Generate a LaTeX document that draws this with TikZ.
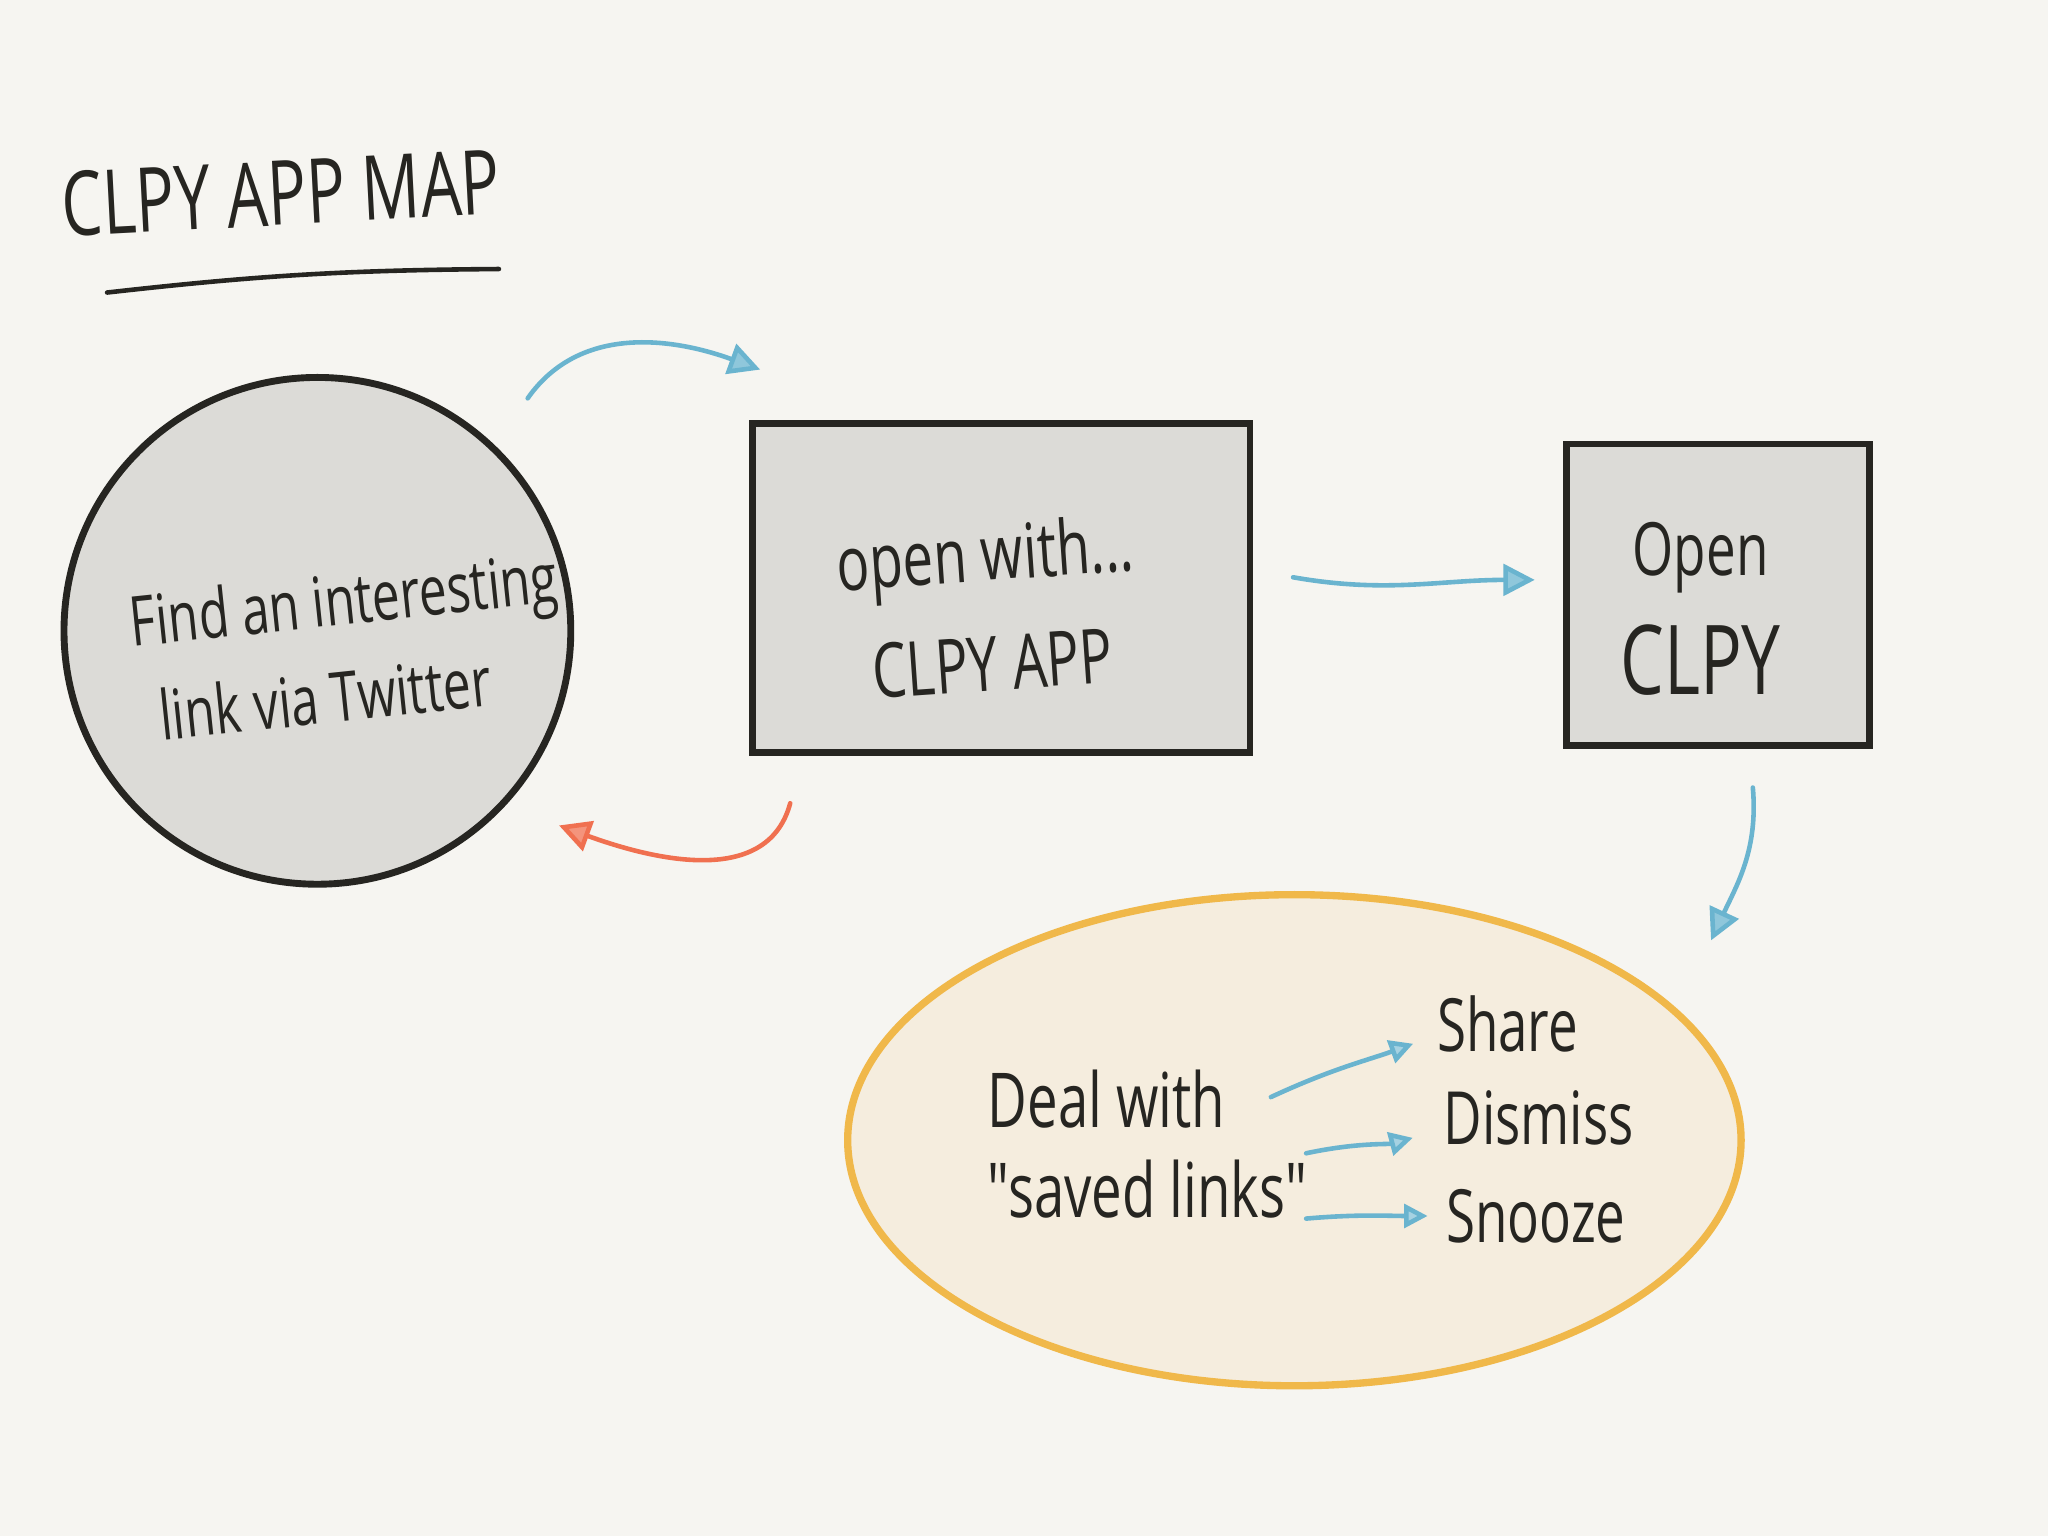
\documentclass[tikz,border=0pt]{standalone}
\usepackage{fontspec}
\setmainfont{Open Sans}
\newfontfamily\handfont[FakeStretch=0.72]{Open Sans}
\usetikzlibrary{shapes.geometric,positioning,arrows.meta}
\definecolor{colBg}{RGB}{246,245,241}
\definecolor{colInk}{RGB}{38,37,33}
\definecolor{colBox}{RGB}{220,219,215}
\definecolor{colFlow}{RGB}{106,180,207}
\definecolor{colBack}{RGB}{240,112,80}
\definecolor{colSaved}{RGB}{240,184,74}
\definecolor{colSavedFill}{RGB}{245,237,222}

\begin{document}
\begin{tikzpicture}[
    every node/.style={font=\handfont, text=colInk},
    box/.style={draw=colInk, fill=colBox, line width=1.5pt, inner sep=0pt},
    hand/.style={align=center, inner sep=1pt, font=\handfont\fontsize{16}{22}\selectfont},
    flow/.style={draw=colFlow, line width=1pt, line cap=round,
        -{Triangle[length=0.24cm, width=0.24cm, fill=colFlow!75]}},
    small flow/.style={flow, -{Triangle[length=0.18cm, width=0.18cm, fill=colFlow!60]}}
]
    \fill[colBg] (0,0) rectangle (15.68,11.76);
    \useasboundingbox (0,0) rectangle (15.68,11.76);

    % title
    \node[rotate=3, font=\handfont\fontsize{19.5}{24}\selectfont] (title) at (2.15,10.28) {CLPY APP MAP};
    \coordinate (ulA) at (0.82,9.52);
    \coordinate (ulB) at (3.82,9.70);
    \draw[colInk, line width=1pt, line cap=round] (ulA) to[bend left=3] (ulB);

    % the four steps
    \node[box, circle, minimum size=3.88cm] (find) at (2.43,6.93) {};
    \node[hand, align=left, rotate=6, font=\handfont\fontsize{15}{21}\selectfont] (findtxt)
        at ([shift={(0.24,-0.12)}]find.center) {Find an interesting\\\hspace{0.15cm}link via Twitter};

    \node[box, minimum width=3.81cm, minimum height=2.52cm] (openwith) at (7.665,7.26) {};
    \node[hand, rotate=4, font=\handfont\fontsize{16.5}{24}\selectfont] (openwithtxt) at (7.57,7.11) {open with...\\CLPY APP};

    \node[box, minimum width=2.32cm, minimum height=2.31cm] (openclpy) at (13.15,7.205) {};
    \node[hand, font=\handfont\fontsize{21}{26}\selectfont] (openclpytxt) at (13.02,7.1)
        {\fontsize{16}{26}\selectfont Open\\CLPY};

    \node[ellipse, draw=colSaved, fill=colSavedFill, line width=1.6pt,
        minimum width=6.84cm, minimum height=3.76cm] (saved) at (9.91,3.03) {};
    \node[hand, align=left, anchor=west, font=\handfont\fontsize{16.5}{19.5}\selectfont] (dealtxt)
        at (7.52,3.0) {Deal with\\"saved links"};
    \node[hand, anchor=west] (share) at (10.96,3.92) {Share};
    \node[hand, anchor=west] (dismiss) at (11.01,3.2) {Dismiss};
    \node[hand, anchor=west] (snooze) at (11.03,2.45) {Snooze};

    % loose ends of the hand drawn arrows
    \coordinate (goS) at (4.04,8.71);
    \coordinate (goE) at (5.82,8.93);
    \coordinate (nextS) at (9.90,7.34);
    \coordinate (nextE) at (11.75,7.32);
    \coordinate (downS) at (13.42,5.73);
    \coordinate (downE) at (13.10,4.56);
    \coordinate (backS) at (6.05,5.61);
    \coordinate (backE) at (4.28,5.44);
    \coordinate (opt) at (9.73,3.36);
    \coordinate (opt2) at (10.00,2.93);
    \coordinate (opt3) at (10.00,2.43);

    \draw[flow] (goS) to[out=55, in=160] (goE);
    \draw[flow] (nextS) to[out=-10, in=180] (nextE);
    \draw[flow] (downS) to[out=-85, in=65] (downE);
    \draw[flow, draw=colBack, -{Triangle[length=0.24cm, width=0.24cm, fill=colBack!75]}]
        (backS) to[out=-105, in=-20] (backE);

    % the three choices
    \draw[small flow, shorten >=0.15cm] (opt) to[out=25, in=-160] ([yshift=-0.1cm]share.west);
    \draw[small flow, shorten >=0.2cm] (opt2) to[out=12, in=-165] ([yshift=-0.1cm]dismiss.west);
    \draw[small flow, shorten >=0.1cm] (opt3) to[out=5, in=180] (snooze.west);
\end{tikzpicture}
\end{document}
